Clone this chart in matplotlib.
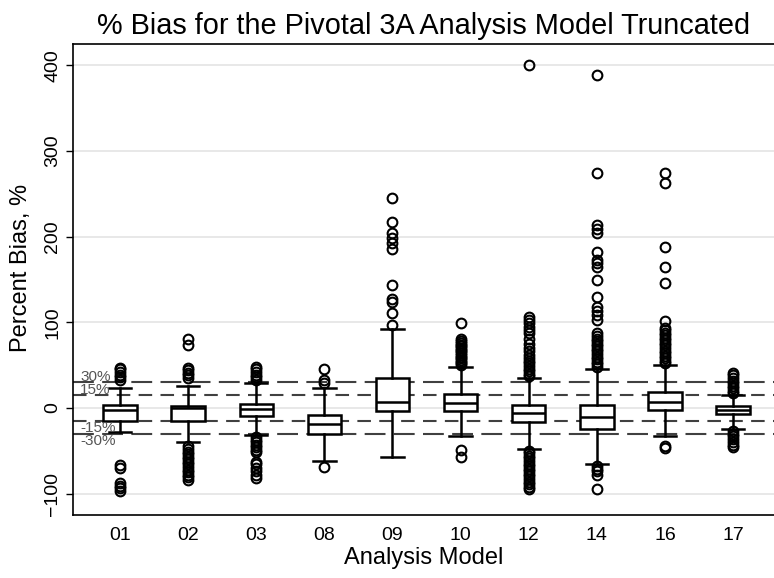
import matplotlib
matplotlib.use("Agg")
import matplotlib.pyplot as plt

plt.rcParams["font.family"] = ["Liberation Sans", "DejaVu Sans"]

models = ["01", "02", "03", "08", "09", "10", "12", "14", "16", "17"]
q1 = [-14.8, -14.8, -9.3, -30.3, -3.5, -3.5, -16.3, -24.9, -2.3, -7.0]
med = [-2.3, -0.4, -1.6, -18.7, 6.6, 6.2, -5.4, -10.0, 7.0, -2.3]
q3 = [3.5, 2.7, 4.7, -8.2, 34.6, 16.3, 3.5, 3.5, 19.0, 2.3]
whislo = [-28.4, -40.0, -32.0, -61.5, -57.0, -32.3, -48.0, -65.0, -32.7, -25.0]
whishi = [23.0, 26.0, 29.5, 23.0, 92.0, 47.5, 34.6, 45.5, 50.0, 15.2]
fliers = [
    [33, 36, 39, 42, 45, 47, -67, -70, -88, -91, -94, -97],
    [35, 38, 41, 44, 47, 73, 80,
     -45, -48, -51, -54, -57, -60, -63, -66, -69, -72, -75, -78, -81, -84],
    [33, 36, 39, 42, 45, 48,
     -34, -37, -40, -43, -46, -49, -52, -63, -66, -70, -74, -78, -82],
    [29, 33, 46, -69],
    [97, 110.5, 124, 127, 144, 185.5, 192, 198, 204, 217, 245],
    [50, 52, 54, 56, 58, 60, 62, 64, 66, 68, 70, 72, 74, 76, 78, 81, 99, -49, -57],
    [37, 40, 43, 46, 49, 52, 55, 58, 62, 66, 70, 75, 80, 87, 91, 95, 99, 103, 106, 400,
     -50, -53, -56, -59, -62, -65, -68, -71, -74, -77, -80, -83, -86, -89, -92, -95],
    [48, 51, 54, 57, 60, 63, 66, 69, 72, 75, 78, 81, 84, 87.5, 103, 108, 113, 118,
     130, 149, 165, 169, 172.7, 182, 204, 209, 213.5, 274, 388.6,
     -68, -71, -74, -78, -94.5],
    [52, 55, 58, 61, 64, 67, 70, 73, 76, 79, 82, 85, 88, 91, 93, 102,
     145.5, 165, 188, 263, 274, -44, -47],
    [17.5, 20, 23, 26, 29, 32, 35, 38, 41, -27, -30, -33, -36, -40, -43, -46],
]
ref_levels = [30, 15, -15, -30]
ref_labels = ["30%", "15%", "-15%", "-30%"]

stats = []
for i in range(len(models)):
    stats.append(dict(label=models[i], q1=q1[i], med=med[i], q3=q3[i],
                      whislo=whislo[i], whishi=whishi[i], fliers=fliers[i]))

fig = plt.figure(figsize=(7.74, 5.78), dpi=100)
ax = fig.add_axes([0.0943, 0.109, 0.9057, 0.815])

# dashed reference lines (+-15%, +-30%) under the boxes
for lev, lab in zip(ref_levels, ref_labels):
    ls = (0, (10, 4)) if abs(lev) == 30 else (0, (6.5, 4))
    ax.axhline(lev, color="#404040", lw=1.5, ls=ls, zorder=1)
    va = "baseline" if lev > 0 else "top"
    ax.text(0.01, lev + (1.5 if lev > 0 else 0), lab, transform=ax.get_yaxis_transform(),
            fontsize=11, color="#555555", va=va, ha="left", zorder=4)

ax.bxp(stats, positions=range(1, len(models) + 1), widths=0.49, capwidths=0.33,
       patch_artist=True,
       boxprops=dict(facecolor="white", edgecolor="black", lw=1.8),
       medianprops=dict(color="black", lw=1.8),
       whiskerprops=dict(color="black", lw=1.8),
       capprops=dict(color="black", lw=1.8),
       flierprops=dict(marker="o", markersize=7, markerfacecolor="none",
                       markeredgecolor="black", markeredgewidth=1.5),
       zorder=3)

ax.set_xlim(0.31, 10.6)
ax.set_ylim(-125, 425)
ax.set_yticks([-100, 0, 100, 200, 300, 400])
ax.yaxis.grid(True, color="#e4e4e4", lw=1.2, zorder=0)
ax.set_axisbelow(True)
ax.tick_params(axis="x", length=0, labelsize=14, pad=9)
ax.tick_params(axis="y", length=5, width=1, labelsize=14, labelrotation=90)
for t in ax.get_yticklabels():
    t.set_va("center")
ax.spines["right"].set_visible(False)
for s in ["left", "top", "bottom"]:
    ax.spines[s].set_linewidth(1.2)

ax.set_xlabel("Analysis Model", fontsize=17, labelpad=2)
ax.set_ylabel("Percent Bias, %", fontsize=17)
ax.yaxis.set_label_coords(-0.058, 0.524)
ax.set_title("% Bias for the Pivotal 3A Analysis Model Truncated", fontsize=20.8, pad=7)

fig.savefig("out.png", dpi=100)
